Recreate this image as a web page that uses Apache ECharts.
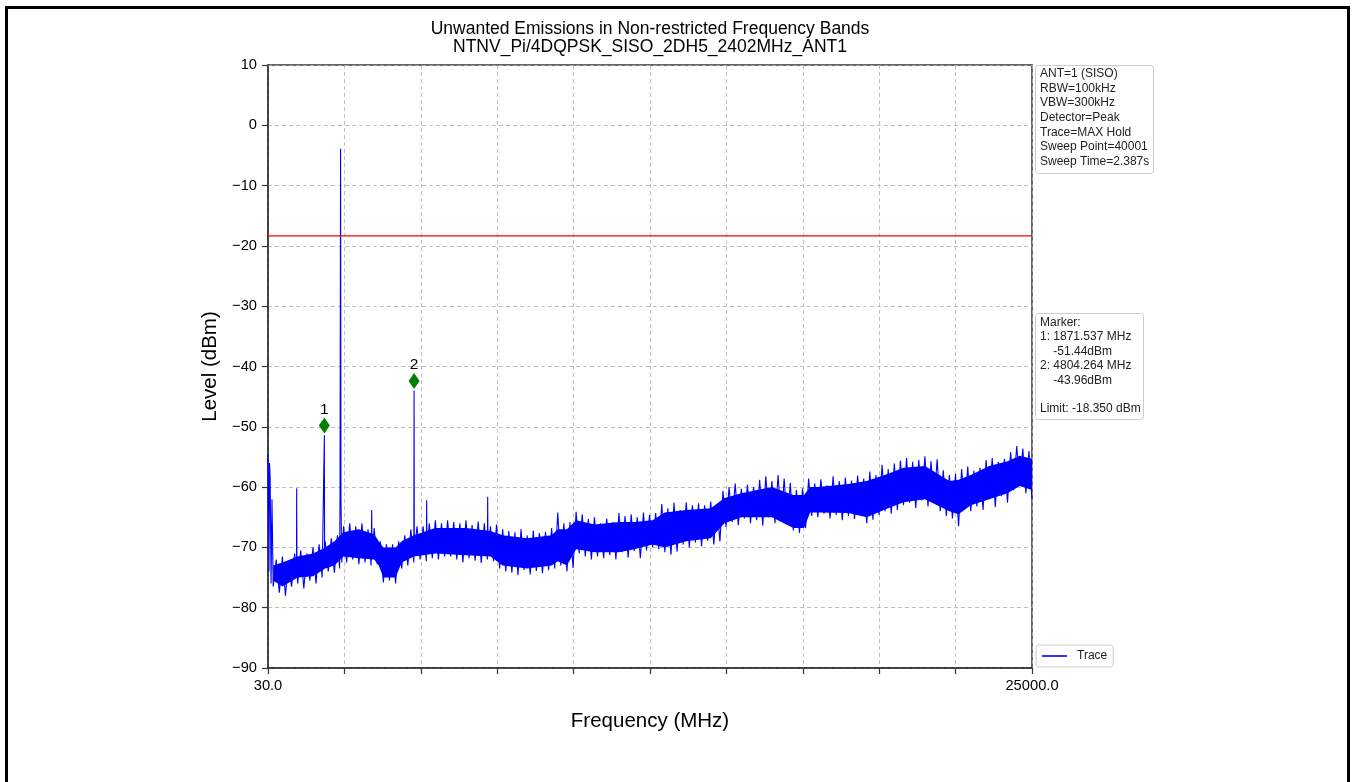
<!DOCTYPE html>
<html>
<head>
<meta charset="utf-8">
<title>Unwanted Emissions in Non-restricted Frequency Bands</title>
<script src="https://cdn.jsdelivr.net/npm/echarts@6/dist/echarts.min.js"></script>
<style>
  html, body { margin: 0; padding: 0; background: #fff; overflow: hidden; }
  #frame {
    position: absolute; left: 5px; top: 6px; width: 1339px; height: 790px;
    border: 3px solid #000; border-bottom: none;
  }
  #chart { position: absolute; left: 0; top: 0; width: 1354px; height: 782px; }
</style>
</head>
<body>
<div id="frame"></div>
<div id="chart"></div>
<script>
// ---- data ----
const titleLines = [
  'Unwanted Emissions in Non-restricted Frequency Bands',
  'NTNV_Pi/4DQPSK_SISO_2DH5_2402MHz_ANT1'
];
const xTickLabels = ['30.0', '', '', '', '', '', '', '', '', '', '25000.0'];
const freqRange = [30, 25000];
const levelRange = [-90, 10];
const limitDbm = -18.35;

// max-hold trace, [MHz, dBm] (noise band drawn as top/bottom excursions)
const trace = [
  [30,-54.6],[60,-74],[80,-56],[100,-58.5],[130,-76],[160,-62],[200,-76.5],[300,-72],[400,-77.5],[500,-71.5],[600,-78],[700,-72.5],[800,-76.5],[900,-71],[960,-75],[968,-60.2],[975,-73.5],
  [1000,-76],[1100,-70.5],[1200,-76.8],[1300,-71],[1400,-75.5],[1500,-70],[1600,-76],[1700,-69.5],[1800,-75],[1871.5,-51.4],[1880,-73],[1900,-69],
  [2000,-74],[2100,-68.5],[2200,-74.2],[2300,-68],[2370,-73.5],[2385,-61],[2402,-3.9],[2415,-62],[2440,-72.5],[2500,-66.5],[2600,-72.5],[2700,-66],[2800,-72],[2900,-66.5],
  [3000,-72.8],[3100,-66],[3200,-72.5],[3300,-67],[3400,-73],[3419,-63.8],[3430,-72],[3500,-66.8],[3600,-72.8],[3700,-69],[3800,-75.8],[3900,-69.5],
  [4000,-75.5],[4100,-69.5],[4200,-76],[4300,-69],[4400,-73.5],[4500,-68],[4600,-73],[4700,-67],[4795,-72.5],[4804.3,-43.96],[4812,-71],[4900,-66.5],
  [5000,-72],[5100,-66.5],[5205,-72.3],[5216,-62.2],[5225,-71],[5300,-66],[5400,-71.8],[5500,-65.5],[5600,-72],[5700,-66],[5800,-71.5],[5900,-65.5],
  [6000,-71.5],[6100,-65.8],[6200,-72],[6300,-66],[6400,-72.5],[6500,-65.5],[6600,-71.8],[6700,-66.3],[6800,-72.2],[6900,-65.7],
  [7000,-72.6],[7100,-66],[7200,-72],[7210,-61.6],[7220,-71],[7300,-66.5],[7400,-72.3],[7500,-66.2],[7600,-73.5],[7700,-67],[7800,-74],[7900,-67.3],
  [8000,-74.2],[8100,-67.5],[8200,-74.6],[8300,-67],[8400,-73.8],[8500,-68],[8600,-74.5],[8700,-67.2],[8800,-73.9],[8900,-67.6],
  [9000,-74.3],[9100,-67.4],[9200,-73.8],[9300,-66.8],[9400,-73.5],[9500,-64.2],[9600,-73],[9700,-66],[9800,-74],[9900,-65.8],
  [10000,-73.4],[10100,-64.1],[10200,-71],[10300,-64.5],[10400,-71.5],[10500,-65.3],[10600,-72],[10700,-65],[10800,-71.5],[10900,-66],
  [11000,-71.8],[11100,-65.2],[11200,-71.3],[11300,-65.8],[11400,-72],[11500,-64.3],[11600,-70.8],[11700,-64.8],[11800,-71.7],[11900,-64.5],
  [12000,-70.6],[12100,-65],[12200,-71.8],[12300,-64.2],[12400,-70.5],[12500,-64.6],[12600,-70],[12700,-64.3],[12800,-70.3],[12900,-62.8],
  [13000,-70.8],[13100,-63.5],[13200,-71.2],[13300,-62.6],[13400,-70.7],[13500,-63.8],[13600,-69.5],[13700,-62.5],[13800,-70],[13900,-63],
  [14000,-69.2],[14100,-62.7],[14200,-69.8],[14300,-63],[14400,-68.9],[14500,-62.4],[14600,-69.5],[14700,-62.8],[14800,-69],[14900,-60.6],
  [15000,-66.6],[15100,-60],[15200,-65.8],[15300,-59.4],[15400,-66.3],[15500,-60.3],[15600,-65.2],[15700,-59.6],[15800,-66],[15900,-60],
  [16000,-65.5],[16100,-58.8],[16200,-66.4],[16300,-58.2],[16400,-65],[16500,-59],[16600,-66],[16700,-58],[16800,-65.6],[16900,-58.6],
  [17000,-66.2],[17100,-59.3],[17200,-67.2],[17300,-60.5],[17400,-67.6],[17500,-60.2],[17600,-66.8],[17700,-58.6],[17800,-64.8],[17900,-59.4],
  [18000,-65],[18100,-58.7],[18200,-64.4],[18300,-59.7],[18400,-65.2],[18500,-58.2],[18600,-64.6],[18700,-59],[18800,-65.5],[18900,-58.4],
  [19000,-64.8],[19100,-58.9],[19200,-65.3],[19300,-58.1],[19400,-64.5],[19500,-58.6],[19600,-66],[19700,-57.4],[19800,-65.4],[19900,-58],
  [20000,-64.6],[20100,-56.3],[20200,-64],[20300,-57],[20400,-64.4],[20500,-56.1],[20600,-63.8],[20700,-55.6],[20800,-63],[20900,-55.2],
  [21000,-62.6],[21100,-55.8],[21200,-63.5],[21300,-55.5],[21400,-62.2],[21500,-54.9],[21600,-63.2],[21700,-55.7],[21800,-62.5],[21900,-55.4],
  [22000,-64],[22100,-57.2],[22200,-64.8],[22300,-58],[22400,-65.2],[22500,-57.8],[22600,-66.5],[22700,-57],[22800,-63.6],[22900,-56.6],
  [23000,-64],[23100,-57.3],[23200,-63.2],[23300,-56.8],[23400,-63.8],[23500,-55.5],[23600,-62],[23700,-55.2],[23800,-63.3],[23900,-55.8],
  [24000,-61.5],[24100,-55.3],[24200,-62.6],[24300,-54.2],[24400,-60.5],[24500,-53.2],[24600,-59.2],[24700,-53.6],[24800,-61],[24900,-54],[25000,-62]
];

// solid core of the noise band
const coreMHz  = [200, 500, 1000, 1500, 1900, 2200, 2500, 3000, 3500, 3650, 3800, 4200, 4400, 4800, 5500, 6500, 7300, 7700, 8500, 9300, 9500, 9800, 10100, 10700, 11500, 12000, 12600, 13000, 13700, 14500, 14950, 15500, 16500, 17200, 17550, 17750, 18000, 19000, 19600, 20300, 20800, 21500, 22300, 22600, 23000, 23600, 24200, 24600, 25000];
const coreHigh = [-73, -72.5, -71.5, -71, -70, -69, -67.5, -67, -67.8, -69, -70, -70, -69, -68, -66.8, -66.8, -67.3, -68, -68.5, -68, -67, -67, -65.5, -66.2, -65.8, -65.8, -65.5, -64.2, -63.8, -63.5, -61.8, -61, -60, -61.3, -61.3, -60, -60, -59.5, -59, -57.8, -56.8, -56.5, -59, -58.8, -58, -56.5, -55.7, -54.8, -55.3];
const coreLow  = [-75.5, -76.5, -75, -74.8, -73.5, -73, -71.5, -71.8, -72, -73, -75, -75, -72.5, -71.5, -71, -71.3, -71.5, -73, -73.5, -73, -72.3, -73, -70.3, -70.8, -70.8, -70.3, -69.5, -70, -69, -68.5, -66, -65, -65, -66.8, -66.8, -64.2, -64.2, -64.3, -65, -63.5, -62.5, -62, -64, -64.5, -63, -62, -61, -59.8, -60.5];

const markerNames = ['1', '2'];
const markerMHz = [1871.537, 4804.264];
const markerDbm = [-49.8, -42.4];

const settingsLines = [
  'ANT=1 (SISO)', 'RBW=100kHz', 'VBW=300kHz', 'Detector=Peak',
  'Trace=MAX Hold', 'Sweep Point=40001', 'Sweep Time=2.387s'
];
const markerLines = [
  'Marker:', '1: 1871.537 MHz', '    -51.44dBm', '2: 4804.264 MHz', '    -43.96dBm', '', 'Limit: -18.350 dBm'
];

// ---- chart ----
const FONT = '"Liberation Sans", Arial, Helvetica, sans-serif';
const chart = echarts.init(document.getElementById('chart'));

const option = {
  animation: false,
  textStyle: { fontFamily: FONT },
  grid: {
    left: 268, right: 322, top: 65, bottom: 114,
    show: true, borderColor: '#333', borderWidth: 1.5, backgroundColor: 'transparent'
  },
  legend: {
    data: [{ name: 'Trace', icon: 'rect' }],
    left: 1036, top: 645,
    padding: [5, 6, 5, 6],
    itemWidth: 25, itemHeight: 1.6,
    borderColor: '#cccccc', borderWidth: 1, borderRadius: 3,
    backgroundColor: '#fff',
    textStyle: { fontSize: 12, color: '#222', fontFamily: FONT, padding: [0, 0, 0, 5], lineHeight: 12 }
  },
  xAxis: [
    {
      type: 'value', min: 0, max: xTickLabels.length - 1, interval: 1,
      position: 'bottom',
      axisLine: { onZero: false, lineStyle: { color: '#333', width: 1.5 } },
      axisTick: { show: true, length: 6, lineStyle: { color: '#333', width: 1.2 } },
      axisLabel: {
        fontSize: 14.7, color: '#000', margin: 10, fontFamily: FONT,
        formatter: v => xTickLabels[Math.round(v)] || ''
      },
      splitLine: { show: true, lineStyle: { color: '#b0b0b0', width: 0.8, type: [4, 3] } },
      name: 'Frequency (MHz)', nameLocation: 'middle', nameGap: 43,
      nameTextStyle: { fontSize: 20.5, color: '#000', fontFamily: FONT }
    },
    {
      type: 'value', min: freqRange[0], max: freqRange[1], show: false,
      axisLine: { onZero: false }, splitLine: { show: false }
    }
  ],
  yAxis: {
    type: 'value', min: levelRange[0], max: levelRange[1], interval: 10,
    axisLine: { show: true, onZero: false, lineStyle: { color: '#333', width: 1.5 } },
    axisTick: { show: true, length: 6, lineStyle: { color: '#333', width: 1.2 } },
    axisLabel: {
      fontSize: 14.7, color: '#000', margin: 11, fontFamily: FONT,
      formatter: v => String(v).replace('-', '\u2212')
    },
    splitLine: { show: true, lineStyle: { color: '#b0b0b0', width: 0.8, type: [4, 3] } },
    name: 'Level (dBm)', nameLocation: 'middle', nameGap: 46,
    nameTextStyle: { fontSize: 20.5, color: '#000', fontFamily: FONT }
  },
  graphic: [
    {
      type: 'text', x: 650, y: 20.5,
      style: {
        text: titleLines.join('\n'), fontSize: 17.5, lineHeight: 17.5, fontFamily: FONT,
        fill: '#000', textAlign: 'center', textVerticalAlign: 'top'
      }
    },
    {
      type: 'rect', shape: { x: 1035.5, y: 65.5, width: 118, height: 108, r: 3 },
      style: { fill: '#fff', stroke: '#cccccc', lineWidth: 1 }
    },
    {
      type: 'text', x: 1040, y: 66.5,
      style: {
        text: settingsLines.join('\n'), fontSize: 12, lineHeight: 14.6, fontFamily: FONT,
        fill: '#222', textVerticalAlign: 'top'
      }
    },
    {
      type: 'rect', shape: { x: 1035.5, y: 313.5, width: 108, height: 106, r: 3 },
      style: { fill: '#fff', stroke: '#cccccc', lineWidth: 1 }
    },
    {
      type: 'text', x: 1040, y: 315.5,
      style: {
        text: markerLines.join('\n'), fontSize: 12, lineHeight: 14.4, fontFamily: FONT,
        fill: '#222', textVerticalAlign: 'top'
      }
    }
  ],
  series: [
    {
      name: 'core', type: 'custom', xAxisIndex: 1, silent: true, z: 2,
      data: coreMHz.map((f, i) => [f, coreLow[i], coreHigh[i]]),
      encode: { x: 0, y: [1, 2] },
      renderItem: (params, api) => {
        if (params.dataIndex !== 0) return null;
        const top = coreMHz.map((f, i) => api.coord([f, coreHigh[i]]));
        const bottom = coreMHz.map((f, i) => api.coord([f, coreLow[i]])).reverse();
        return {
          type: 'polygon',
          shape: { points: top.concat(bottom) },
          style: { fill: '#0000ff' }
        };
      }
    },
    {
      name: 'Trace', type: 'line', xAxisIndex: 1,
      symbol: 'none', z: 3,
      lineStyle: { color: '#0000ff', width: 1.1 },
      itemStyle: { color: '#0000ff' },
      data: trace
    },
    {
      name: 'Limit', type: 'line', xAxisIndex: 1,
      symbol: 'none', z: 4,
      lineStyle: { color: '#ff0000', width: 1.3 },
      data: [[freqRange[0], limitDbm], [freqRange[1], limitDbm]]
    },
    {
      name: 'Marker', type: 'scatter', xAxisIndex: 1, z: 5,
      symbol: 'diamond', symbolSize: [11, 16],
      itemStyle: { color: '#008000', opacity: 1 },
      label: {
        show: true, position: 'top', distance: 0,
        fontSize: 15.5, color: '#000', fontFamily: FONT,
        formatter: p => markerNames[p.dataIndex]
      },
      data: markerMHz.map((f, i) => [f, markerDbm[i]])
    }
  ]
};

chart.setOption(option);
window.addEventListener('resize', () => chart.resize());
</script>
</body>
</html>
